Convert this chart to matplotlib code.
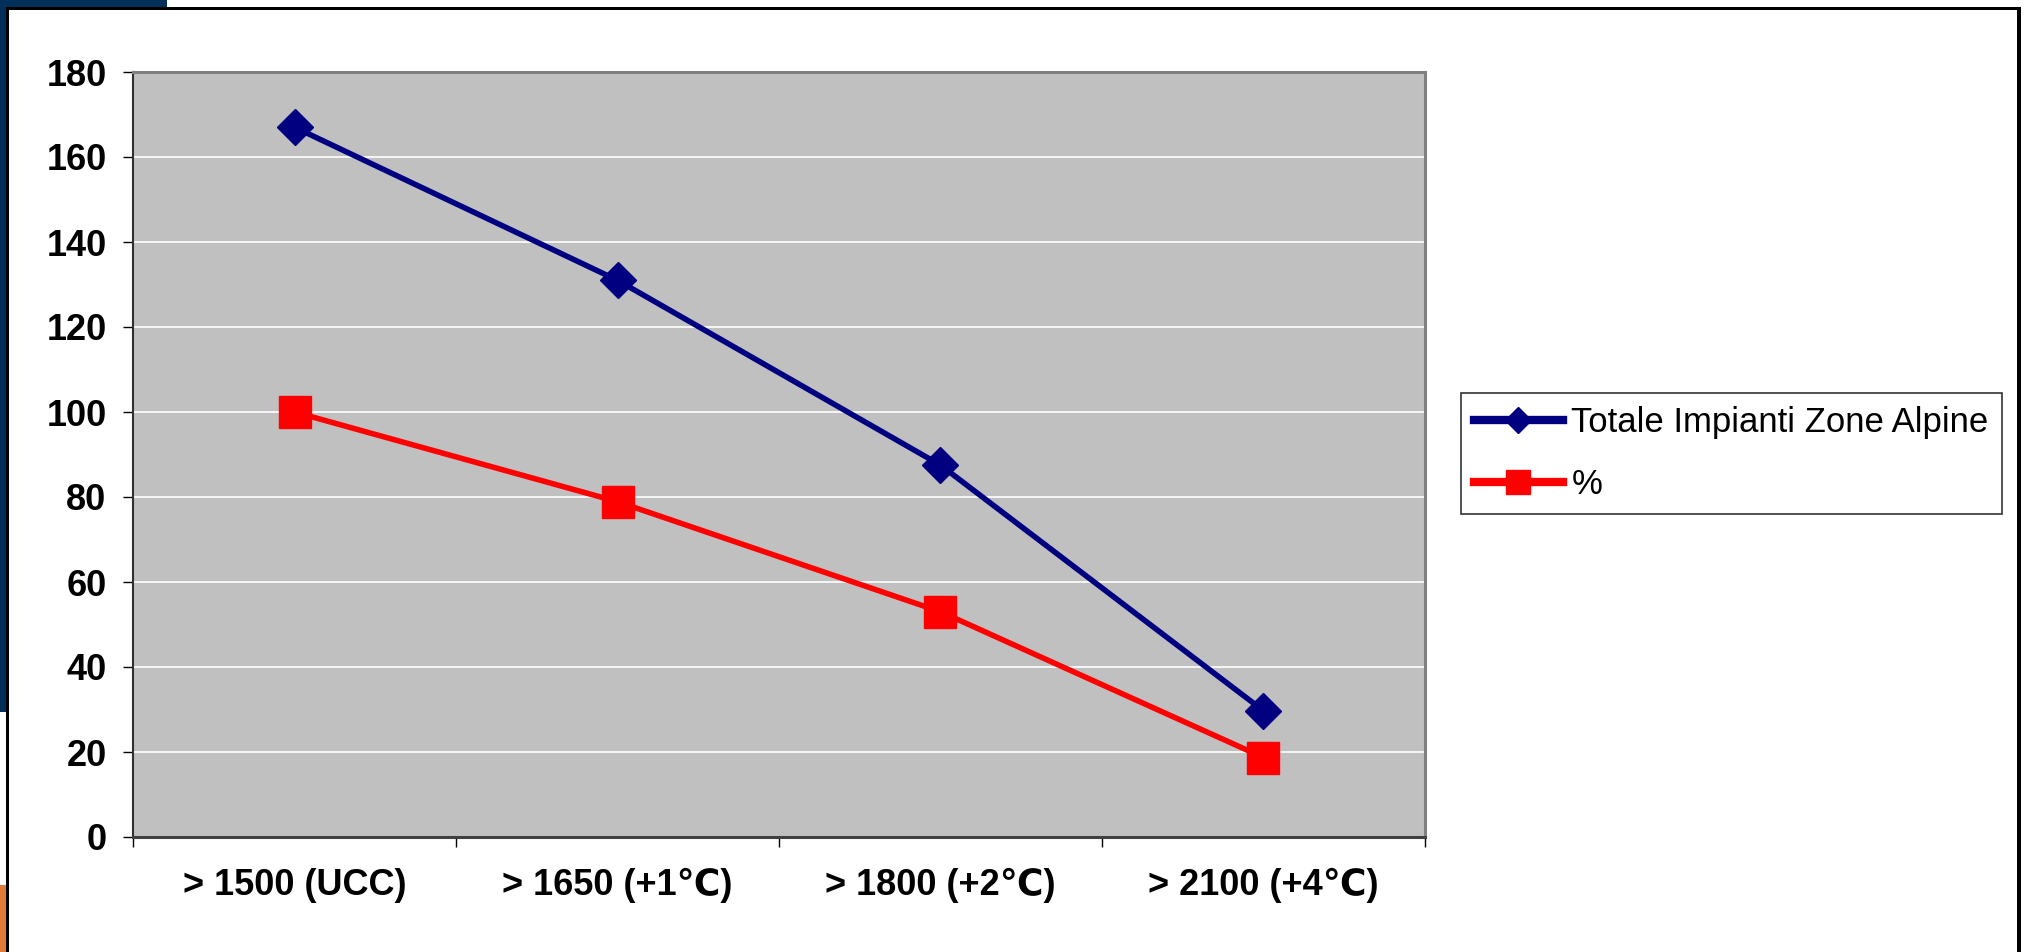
import matplotlib
matplotlib.use("Agg")
import matplotlib.pyplot as plt
from matplotlib.patches import Rectangle

# data
categories = ["> 1500 (UCC)", "> 1650 (+1℃)", "> 1800 (+2℃)", "> 2100 (+4℃)"]
totale = [167, 131, 87.5, 29.7]
percent = [100, 78.9, 53, 18.7]
series_names = ["Totale Impianti Zone Alpine", "%"]
y_ticks = [0, 20, 40, 60, 80, 100, 120, 140, 160, 180]

W, H = 2031, 952
plt.rcParams['font.family'] = ['Liberation Sans', 'DejaVu Sans']

fig = plt.figure(figsize=(W / 100, H / 100), dpi=100)
fig.patch.set_facecolor('white')


def px_rect(x0, y0, x1, y1, color):
    # rectangle given in pixel coords from the top-left corner
    fig.add_artist(Rectangle((x0 / W, 1 - y1 / H), (x1 - x0) / W, (y1 - y0) / H,
                             transform=fig.transFigure, facecolor=color,
                             edgecolor='none', zorder=0))


# slide decorations around the chart
px_rect(0, 0, 167, 7, '#00305A')
px_rect(0, 0, 6, 712, '#00305A')
px_rect(0, 885, 6, H, '#E07B39')
px_rect(6, 7, 2021, 10, 'black')
px_rect(6, 7, 9, H, 'black')
px_rect(2017, 7, 2021, H, 'black')

ax = fig.add_axes([133 / W, 1 - 837 / H, (1425 - 133) / W, (837 - 72) / H])
ax.set_facecolor('#C0C0C0')

x = list(range(len(categories)))
ax.plot(x, totale, color='#000080', lw=4, marker='D', ms=18,
        label=series_names[0], zorder=3)
ax.plot(x, percent, color='#FF0000', lw=4, marker='s', ms=23,
        label=series_names[1], zorder=3)

ax.set_xlim(-0.5, len(categories) - 0.5)
ax.set_ylim(0, 180)
ax.set_yticks(y_ticks)
ax.yaxis.grid(True, color='white', lw=1.2)
ax.set_axisbelow(True)

ax.set_xticks(x)
ax.set_xticklabels(categories)
ax.set_xticks([i - 0.5 for i in range(len(categories) + 1)], minor=True)
ax.tick_params(axis='x', which='major', length=0, pad=22)
ax.tick_params(axis='x', which='minor', length=7, width=1, direction='out')
ax.tick_params(axis='y', length=7, width=1, direction='out', pad=12)
for lab in ax.get_xticklabels() + ax.get_yticklabels():
    lab.set_fontsize(26)
    lab.set_fontweight('bold')

ax.spines['top'].set_color('#808080')
ax.spines['right'].set_color('#808080')
ax.spines['top'].set_linewidth(2.2)
ax.spines['right'].set_linewidth(2.2)
ax.spines['left'].set_color('#303030')
ax.spines['left'].set_linewidth(1.5)
ax.spines['bottom'].set_color('#404040')
ax.spines['bottom'].set_linewidth(2.2)

leg = fig.legend(loc='center left', bbox_to_anchor=(1461 / W, 1 - 453.5 / H),
                 borderaxespad=0, fancybox=False, shadow=False,
                 prop={'family': 'Liberation Sans', 'size': 25},
                 handlelength=2.55, handletextpad=0.25, borderpad=0.38,
                 labelspacing=0.85, markerscale=0.75)
leg.get_frame().set_edgecolor('black')
leg.get_frame().set_linewidth(1.2)
for line in leg.get_lines():
    line.set_linewidth(6)

fig.savefig('out.png', dpi=100)
